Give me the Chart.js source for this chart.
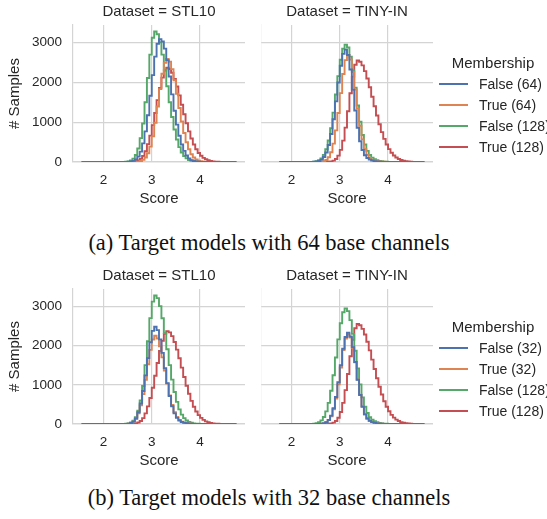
<!DOCTYPE html>
<html>
<head>
<meta charset="utf-8">
<title>Membership score histograms</title>
<script src="https://cdn.jsdelivr.net/npm/chart.js@4.4.1/dist/chart.umd.min.js"></script>
<style>
  html, body { margin: 0; padding: 0; background: #ffffff; }
  body {
    width: 547px; height: 519px; overflow: hidden; position: relative;
    font-family: "Liberation Sans", Arial, sans-serif; color: #262626;
  }
  canvas { position: absolute; }
  .legend { position: absolute; left: 430px; width: 200px; height: 110px; }
  .legend-title { position: absolute; left: 0; width: 126px; text-align: center; font-size: 15px; line-height: 18px; }
  .legend-row { position: absolute; left: 9px; height: 20px; display: flex; align-items: center; font-size: 14px; white-space: nowrap; }
  .swatch { width: 29px; height: 0; border-top: 2px solid; margin-right: 11px; }
  .caption {
    position: absolute; left: 0; width: 538px; text-align: center;
    font-family: "Liberation Serif", "Times New Roman", serif; font-size: 22.5px; line-height: 26px; color: #111;
  }
</style>
</head>
<body>
<canvas id="stl64" width="245" height="212" style="left:0px; top:0px"></canvas>
<canvas id="tiny64" width="172" height="212" style="left:261px; top:0px"></canvas>
<div class="legend" id="legend64" style="top:54px"></div>
<div class="caption" style="top:230px">(a) Target models with 64 base channels</div>

<canvas id="stl32" width="245" height="210" style="left:0px; top:264px"></canvas>
<canvas id="tiny32" width="172" height="210" style="left:261px; top:264px"></canvas>
<div class="legend" id="legend32" style="top:318px"></div>
<div class="caption" style="top:485px">(b) Target models with 32 base channels</div>

<script>
// ================= DATA =================
const BIN_WIDTH = 0.05;
const STL_BIN_START = 1.55;   // STL10 facets: bins 1.55 .. 4.75
const TINY_BIN_START = 1.75;  // TINY-IN facets: bins 1.75 .. 4.75

const xTicks = [2, 3, 4];
const yTicks = [0, 1000, 2000, 3000];
const xMin = 1.37;
const xMax = 4.93;
const yMax = 3444;

const colors = ["#4c72b0", "#dd8452", "#55a868", "#c44e52"];
const labels64 = ["False (64)", "True (64)", "False (128)", "True (128)"];
const labels32 = ["False (32)", "True (32)", "False (128)", "True (128)"];

// counts per bin, STL10 (64 bins)
const stlFalse64 = [0,0,0,0,0,0,0,0,0,0,0,0,0,0,0,0,
  0,1,2,5,12,29,65,136,262,467,769,1177,1666,2185,2648,2973,
  3090,3030,2850,2560,2150,1700,1290,940,660,440,280,165,92,48,24,12,
  6,3,1,0,0,0,0,0,0,0,0,0,0,0,0,0];
const stlTrue64 = [0,0,0,0,0,0,0,0,0,0,0,0,0,0,0,0,
  0,0,0,0,1,2,5,10,24,54,114,220,391,645,987,1396,
  1831,2220,2492,2590,2523,2336,2054,1715,1357,1020,730,495,319,196,114,63,
  33,17,8,4,2,1,0,0,0,0,0,0,0,0,0,0];
const stlFalse32 = [0,0,0,0,0,0,0,0,0,0,0,0,0,0,0,0,
  1,2,4,10,25,60,140,298,523,841,1240,1681,2086,2376,2480,2396,
  2160,1815,1426,1044,714,454,270,155,88,50,30,18,10,6,3,2,
  1,0,0,0,0,0,0,0,0,0,0,0,0,0,0,0];
const stlTrue32 = [0,0,0,0,0,0,0,0,0,0,0,0,0,0,0,0,
  1,2,4,10,25,60,135,270,475,763,1125,1526,1892,2156,2250,2180,
  1985,1699,1366,1031,731,486,304,180,105,60,35,20,11,6,3,2,
  1,0,0,0,0,0,0,0,0,0,0,0,0,0,0,0];
const stlFalse128 = [0,0,0,0,0,0,0,0,0,0,0,0,1,1,1,1,
  2,3,7,16,38,85,175,340,600,968,1502,2112,2700,3123,3280,3211,
  3008,2699,2319,1906,1502,1132,817,564,374,239,150,90,52,30,17,9,
  5,3,2,1,0,0,0,0,0,0,0,0,0,0,0,0];
const stlTrue128 = [0,0,0,0,0,0,0,0,0,0,0,0,0,0,0,0,
  0,1,1,2,4,8,17,38,78,150,270,449,663,926,1231,1556,
  1864,2120,2300,2370,2337,2242,2090,1898,1676,1439,1199,974,770,590,441,320,
  227,156,104,68,43,26,16,9,5,3,2,1,1,1,0,0];

// counts per bin, TINY-IN (60 bins)
const tinyFalse64 = [0,0,0,0,0,0,0,0,0,0,0,0,
  1,2,5,11,27,59,124,240,427,703,1076,1523,1997,2421,2718,2825,
  2689,2325,1819,1294,860,520,300,170,100,60,36,21,12,7,4,2,
  1,0,0,0,0,0,0,0,0,0,0,0,0,0,0,0];
const tinyTrue64 = [0,0,0,0,0,0,0,0,0,0,0,0,
  0,0,1,2,4,8,20,52,118,246,463,794,1232,1732,2214,2561,
  2690,2577,2262,1824,1345,912,568,323,180,100,60,36,22,13,8,5,
  3,2,1,0,0,0,0,0,0,0,0,0,0,0,0,0];
const tinyFalse32 = [0,0,0,0,0,0,0,0,0,0,0,0,
  0,0,0,1,3,7,18,45,103,213,401,687,1067,1500,1918,2218,
  2330,2232,1960,1580,1130,740,440,245,140,80,48,28,16,9,5,3,
  2,1,0,0,0,0,0,0,0,0,0,0,0,0,0,0];
const tinyTrue32 = [0,0,0,0,0,0,0,0,0,0,0,0,
  0,0,0,1,3,7,17,44,101,198,375,650,1010,1440,1885,2180,
  2290,2205,1945,1575,1135,750,450,250,142,82,49,29,17,10,5,3,
  2,1,0,0,0,0,0,0,0,0,0,0,0,0,0,0];
const tinyFalse128 = [0,0,0,0,0,0,0,0,0,0,1,1,
  2,4,9,20,45,92,179,322,540,850,1242,1696,2159,2569,2850,2950,
  2880,2650,2300,1870,1420,1010,680,440,280,175,110,70,45,28,17,10,
  6,3,2,1,0,0,0,0,0,0,0,0,0,0,0,0];
const tinyTrue128 = [0,0,0,0,0,0,0,0,0,0,0,0,
  0,0,0,0,1,1,2,3,6,14,34,77,161,306,538,864,
  1275,1729,2145,2443,2550,2519,2428,2285,2099,1879,1642,1403,1168,949,752,581,
  439,324,233,163,112,75,49,31,19,12,7,4,3,2,1,1];

// ================= HELPERS =================
const TEXT = "#262626";
const GRID = "#d4d4d4";
const FONT = "'Liberation Sans', Arial, sans-serif";

// bin edges -> points for a step line (last value carried to the right edge)
function toSteps(values, binStart) {
  const pts = values.map((v, i) => ({ x: binStart + i * BIN_WIDTH, y: v }));
  pts.push({ x: binStart + values.length * BIN_WIDTH, y: values[values.length - 1] });
  return pts;
}

function makePanel(canvasId, title, binStart, seriesList, labels, showY) {
  const ctx = document.getElementById(canvasId).getContext("2d");
  return new Chart(ctx, {
    type: "line",
    data: {
      datasets: seriesList.map((values, i) => ({
        label: labels[i],
        data: toSteps(values, binStart),
        borderColor: colors[i],
        borderWidth: 1.9,
        pointRadius: 0,
        stepped: "before",
        fill: false
      }))
    },
    options: {
      responsive: false,
      animation: false,
      layout: { padding: 0 },
      plugins: {
        legend: { display: false },
        tooltip: { enabled: false },
        title: {
          display: true,
          text: title,
          fullSize: false,
          color: TEXT,
          font: { family: FONT, size: 15, weight: "normal" },
          padding: { top: 3, bottom: 4 }
        }
      },
      scales: {
        x: {
          type: "linear",
          min: xMin,
          max: xMax,
          afterBuildTicks: (sc) => { sc.ticks = xTicks.map(v => ({ value: v })); },
          afterFit: (sc) => { sc.height = 50; },
          grid: { color: GRID, lineWidth: 1.2, drawTicks: false },
          border: { display: true, color: GRID, width: 1.2 },
          ticks: { color: TEXT, font: { family: FONT, size: 13.5 }, padding: 10.5, callback: (v) => String(v) },
          title: {
            display: true, text: "Score", color: TEXT,
            font: { family: FONT, size: 15 }, padding: { top: 0, bottom: 4 }
          }
        },
        y: {
          type: "linear",
          min: 0,
          max: yMax,
          afterBuildTicks: (sc) => { sc.ticks = yTicks.map(v => ({ value: v })); },
          afterFit: (sc) => { sc.width = showY ? 73 : 0; },
          grid: { color: GRID, lineWidth: 1.2, drawTicks: false },
          border: { display: true, color: GRID, width: 1.2 },
          ticks: { display: showY, color: TEXT, font: { family: FONT, size: 13.5 }, padding: 11, callback: (v) => String(v) },
          title: {
            display: showY, text: "# Samples", color: TEXT,
            font: { family: FONT, size: 15 }, padding: { top: 6, bottom: 0 }
          }
        }
      }
    }
  });
}

function makeLegend(divId, labels) {
  const box = document.getElementById(divId);
  const head = document.createElement("div");
  head.className = "legend-title";
  head.textContent = "Membership";
  box.appendChild(head);
  labels.forEach((text, i) => {
    const row = document.createElement("div");
    row.className = "legend-row";
    row.style.top = (20 + i * 21) + "px";
    const sw = document.createElement("span");
    sw.className = "swatch";
    sw.style.borderTopColor = colors[i];
    const lab = document.createElement("span");
    lab.textContent = text;
    row.appendChild(sw);
    row.appendChild(lab);
    box.appendChild(row);
  });
}

// ================= BUILD =================
makePanel("stl64", "Dataset = STL10", STL_BIN_START,
  [stlFalse64, stlTrue64, stlFalse128, stlTrue128], labels64, true);
makePanel("tiny64", "Dataset = TINY-IN", TINY_BIN_START,
  [tinyFalse64, tinyTrue64, tinyFalse128, tinyTrue128], labels64, false);
makePanel("stl32", "Dataset = STL10", STL_BIN_START,
  [stlFalse32, stlTrue32, stlFalse128, stlTrue128], labels32, true);
makePanel("tiny32", "Dataset = TINY-IN", TINY_BIN_START,
  [tinyFalse32, tinyTrue32, tinyFalse128, tinyTrue128], labels32, false);

makeLegend("legend64", labels64);
makeLegend("legend32", labels32);
</script>
</body>
</html>
